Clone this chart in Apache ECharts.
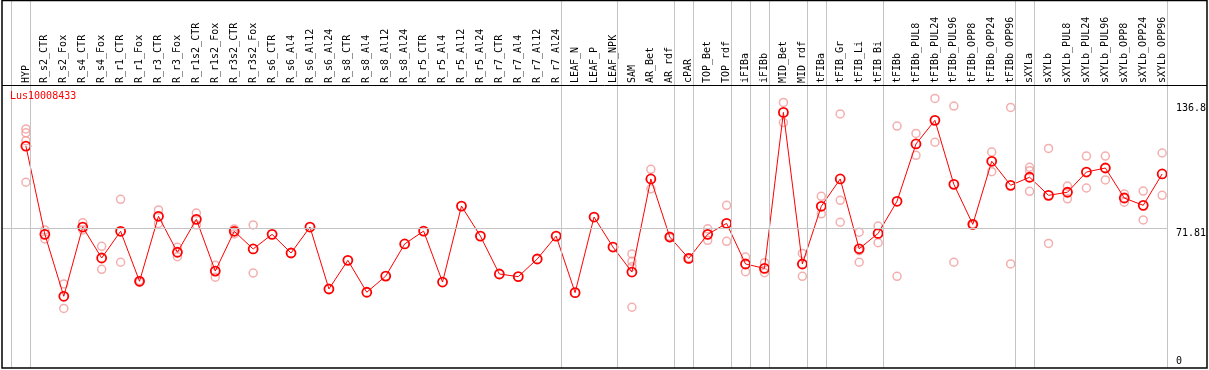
<!DOCTYPE html>
<html>
<head>
<meta charset="utf-8">
<script src="https://cdn.jsdelivr.net/npm/echarts@6/dist/echarts.min.js"></script>
<style>
html,body{margin:0;padding:0;background:#fff;}
#chart{width:1209px;height:370px;}
</style>
</head>
<body>
<div id="chart"></div>
<script>
const categories = ["HYP","R_s2_CTR","R_s2_Fox","R_s4_CTR","R_s4_Fox","R_r1_CTR","R_r1_Fox","R_r3_CTR","R_r3_Fox","R_r1s2_CTR","R_r1s2_Fox","R_r3s2_CTR","R_r3s2_Fox","R_s6_CTR","R_s6_Al4","R_s6_Al12","R_s6_Al24","R_s8_CTR","R_s8_Al4","R_s8_Al12","R_s8_Al24","R_r5_CTR","R_r5_Al4","R_r5_Al12","R_r5_Al24","R_r7_CTR","R_r7_Al4","R_r7_Al12","R_r7_Al24","LEAF_N","LEAF_P","LEAF_NPK","SAM","AR_Bet","AR_rdf","cPAR","TOP_Bet","TOP_rdf","iFIBa","iFIBb","MID_Bet","MID_rdf","tFIBa","tFIB_Gr","tFIB_Li","tFIB_Bi","tFIBb","tFIBb_PUL8","tFIBb_PUL24","tFIBb_PUL96","tFIBb_OPP8","tFIBb_OPP24","tFIBb_OPP96","sXYLa","sXYLb","sXYLb_PUL8","sXYLb_PUL24","sXYLb_PUL96","sXYLb_OPP8","sXYLb_OPP24","sXYLb_OPP96"];

const means = [114.4,68.5,36.3,72.3,56.2,70.1,44.1,77.9,59.2,76.3,49.4,70.1,60.9,68.5,58.8,72.3,40.1,55.0,38.4,46.8,63.5,70.2,43.7,83.2,67.6,47.9,46.5,55.7,67.6,38.2,77.5,61.9,48.9,97.3,67.1,56.0,68.5,74.2,53.1,50.8,131.9,53.1,83.1,97.3,61.0,69.0,85.7,115.5,127.8,94.5,73.7,106.5,94.0,98.2,88.8,90.4,100.9,103.0,87.4,83.6,99.9];

const replicates = [
  [123.3,121.3,117.2,95.6],[70.8,66.1],[42.7,30.0],[74.6,70.8],[62.3,50.3],[86.7,54.0],[44.5,43.7],[81.2,74.2],[61.8,56.9],[79.6,73.4],[52.4,46.2],[71.3,68.7],[73.4,48.4],
  [],[],[],[],[],[],[],[],[],[],[],[],[],[],[],[],[],[],[],
  [58.3,54.5,51.7,30.6],[102.3,92.2],[67.5,66.7],[56.3,55.7],[71.4,65.4],[83.6,64.9],[56.7,49.1],[53.8,48.6],[137.1,126.6],[58.6,46.7],[88.3,79.2],[131.1,86.2,74.8],[69.6,60.0,54.0],[72.8,64.2],[124.8,46.7],
  [121.0,109.6],[139.2,116.4],[135.2,54.0],[74.0,73.4],[111.3,101.1],[134.5,53.1],[103.4,101.6,90.9],[113.2,63.8],[93.6,87.0],[109.2,92.6],[109.2,96.8],[89.5,85.2],[91.0,76.0],[110.8,88.8]
];

// index of the last category in each group (-1 = line before the first)
const groupEnds = [-1,0,28,31,34,35,37,38,39,41,42,45,52,53,60];
const yTickLabels = [71.81,136.8];
const yZeroLabel = [0];
const refLine = 71.81;
const title = "Lus10008433";

const font = "DejaVu Sans Mono";
const chart = echarts.init(document.getElementById('chart'), null, {renderer:'canvas'});

const meanData = means.map((v,i)=>[i,v]);
const repData = [];
replicates.forEach((arr,i)=>arr.forEach(v=>repData.push([i,v])));

const yMin = -0.99, yMax = 190.36;

chart.setOption({
  animation:false,
  backgroundColor:'#fff',
  title:{text:title,left:10,top:91,padding:0,textStyle:{color:'#ff0000',fontSize:10,fontWeight:'normal',fontFamily:font}},
  grid:{left:2,right:38.25,top:0,bottom:2,containLabel:false},
  xAxis:{
    type:'value',min:-1.2632,max:60.25,position:'top',offset:-85,
    axisLine:{show:false},axisTick:{show:false},splitLine:{show:false},
    axisLabel:{customValues:categories.map((c,i)=>i),rotate:90,margin:2,fontSize:10,fontFamily:font,color:'#000',
      formatter:v=>categories[Math.round(v)]}
  },
  yAxis:[
    {type:'value',min:yMin,max:yMax,position:'right',
     axisLine:{show:false},axisTick:{show:false},splitLine:{show:false},
     axisLabel:{customValues:yTickLabels,verticalAlign:'top',margin:9,fontSize:10,fontFamily:font,color:'#000',formatter:v=>String(v)}},
    {type:'value',min:yMin,max:yMax,position:'right',
     axisLine:{show:false},axisTick:{show:false},splitLine:{show:false},
     axisLabel:{customValues:yZeroLabel,verticalAlign:'bottom',margin:9,fontSize:10,fontFamily:font,color:'#000',formatter:v=>String(v)}}
  ],
  series:[
    {type:'scatter',data:repData,symbol:'circle',symbolSize:8,z:2,
     itemStyle:{color:'rgba(0,0,0,0)',borderColor:'#f09a9a',borderWidth:1.5},
     markLine:{silent:true,symbol:'none',label:{show:false},animation:false,
       lineStyle:{color:'#c4c4c4',type:'solid',width:1},
       data:groupEnds.map(i=>({xAxis:i<0?-0.8:i+0.25})).concat([{yAxis:refLine}])}},
    {type:'line',data:meanData,symbol:'circle',symbolSize:9,z:3,
     lineStyle:{color:'#ff0000',width:1},
     itemStyle:{color:'rgba(0,0,0,0)',borderColor:'#ff0000',borderWidth:1.8}}
  ],
  graphic:[
    {type:'rect',silent:true,z:100,shape:{x:2,y:0.5,width:1205,height:367.5},style:{fill:null,stroke:'#000',lineWidth:1.5}},
    {type:'line',silent:true,z:100,shape:{x1:2,y1:85.5,x2:1207,y2:85.5},style:{stroke:'#000',lineWidth:1}}
  ]
});
</script>
</body>
</html>
